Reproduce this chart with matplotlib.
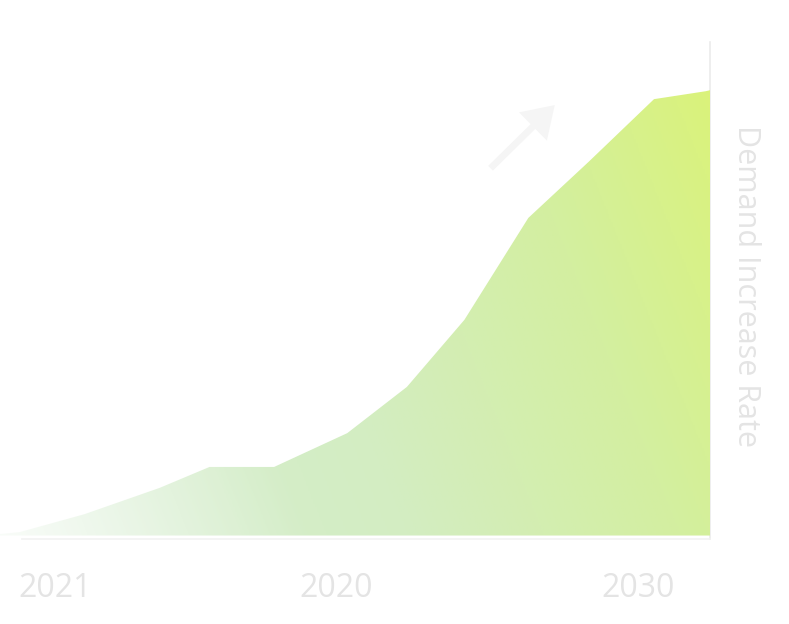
import numpy as np
import matplotlib.pyplot as plt
from matplotlib.colors import LinearSegmentedColormap
from matplotlib.patches import Polygon

# data (x in arbitrary timeline units 0-100, y = demand index 0-100)
x_vals = [0, 2.8, 11.9, 22.5, 29.5, 38.6, 48.9, 57.3, 65.4, 74.4, 82.9, 92.1, 99.4, 100]
demand = [1.0, 1.4, 5.0, 10.3, 14.5, 14.5, 21.3, 30.6, 44.1, 64.6, 75.9, 88.5, 90.1, 90.3]
tick_pos = [7.7, 47.3, 89.9]
tick_labels = ["2021", "2020", "2030"]

base = 0.7
label_color = "#e4e4e4"

fig = plt.figure(figsize=(7.89, 6.24), dpi=100)
ax = fig.add_axes([0.0, 0.1362, 0.9000, 0.7965])
ax.set_xlim(0, 100)
ax.set_ylim(0, 100)

# gradient fill clipped to the area under the curve
nx, ny = 400, 300
gx, gy = np.meshgrid(np.linspace(0, 1, nx), np.linspace(0, 1, ny))
t = np.clip(0.78 * gx + 0.22 * gy, 0, 1)
cmap = LinearSegmentedColormap.from_list(
    "demand", [(0.0, "#d8eed6"), (0.45, "#d3edc2"), (0.75, "#d3efa0"), (1.0, "#dbf377")])
rgba = cmap(t)
rgba[..., 3] = np.clip(0.15 + t / 0.40, 0, 1)
img = ax.imshow(rgba, extent=[0, 100, 0, 100], origin="lower", aspect="auto", zorder=1)

verts = list(zip(x_vals, demand)) + [(x_vals[-1], base), (x_vals[0], base)]
poly = Polygon(verts, closed=True, facecolor="none", edgecolor="none")
ax.add_patch(poly)
img.set_clip_path(poly)

# faint arrow
ax.annotate("", xy=(78.4, 87.7), xytext=(68.8, 74.2),
            arrowprops=dict(arrowstyle="simple,head_width=1.3,head_length=1.0,tail_width=0.22",
                            color="#f5f5f5", lw=0, mutation_scale=22))

# spines
for side in ["top", "left"]:
    ax.spines[side].set_visible(False)
ax.spines["bottom"].set_color("#f2f2f2")
ax.spines["right"].set_color("#ebebeb")
ax.spines["bottom"].set_bounds(3.1, 100)
ax.spines["bottom"].set_linewidth(1.2)
ax.spines["right"].set_linewidth(1.2)
ax.spines["right"].set_zorder(0)

ax.set_xticks(tick_pos, labels=tick_labels)
ax.set_yticks([])
ax.tick_params(axis="x", length=0, pad=24, labelsize=23, labelcolor=label_color)
for lab in ax.get_xticklabels():
    lab.set_fontfamily("Open Sans")

ax.yaxis.set_label_position("right")
ax.set_ylabel("Demand Increase Rate", rotation=270, fontsize=22, color=label_color,
              family="Open Sans", va="center")
ax.yaxis.set_label_coords(1.051, 0.51)

fig.savefig("out.png", dpi=100, facecolor="white")
